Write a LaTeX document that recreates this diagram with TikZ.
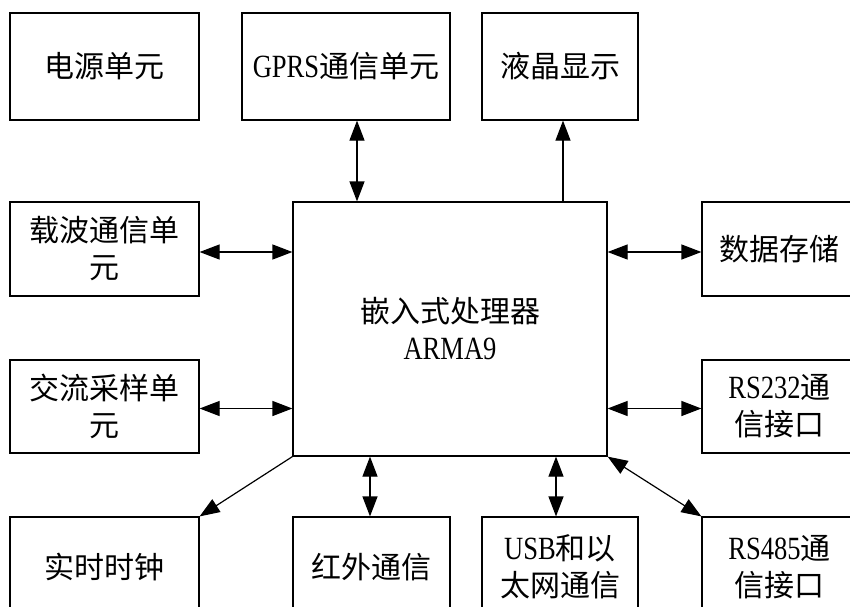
\documentclass[tikz,border=0pt]{standalone}
\usepackage{fontspec}
\setmainfont{Liberation Serif}[FakeStretch=0.82,Scale=1.08]
\newfontfamily\cjk{Noto Sans CJK SC}
\usetikzlibrary{arrows.meta}
\tikzset{
  blk/.style={draw, line width=1.2pt, inner sep=0pt, align=center,
    font=\fontsize{30}{37}\selectfont},
  link/.style={line width=1.2pt, -{Triangle[length=20pt,width=15pt]}},
  dlink/.style={line width=1.2pt, {Triangle[length=20pt,width=15pt]}-{Triangle[length=20pt,width=15pt]}}
}
\begin{document}
\begin{tikzpicture}[x=1pt,y=-1pt]
\clip (0,0) rectangle (850,606);
\fill[white] (0,0) rectangle (850,606);
% top row
\node[blk, minimum width=189pt, minimum height=107pt] (power) at (104.5,66.5) {\cjk 电源单元};
\node[blk, minimum width=208pt, minimum height=107pt] (gprs) at (346,66.5) {GPRS{\cjk 通信单元}};
\node[blk, minimum width=156pt, minimum height=107pt] (lcd) at (560,66.5) {\cjk 液晶显示};
% centre
\node[blk, minimum width=314pt, minimum height=254pt] (cpu) at (450,329) {{\cjk 嵌入式处理器}\\ARMA9};
% left
\node[blk, minimum width=189pt, minimum height=94pt] (carrier) at (104.5,249) {{\cjk 载波通信单}\\{\cjk 元}};
\node[blk, minimum width=189pt, minimum height=93pt] (ac) at (104.5,406.5) {{\cjk 交流采样单}\\{\cjk 元}};
% right
\node[blk, minimum width=155pt, minimum height=94pt] (store) at (779.5,249) {\cjk 数据存储};
\node[blk, minimum width=155pt, minimum height=93pt] (rs232) at (779.5,406.5) {RS232{\cjk 通}\\{\cjk 信接口}};
% bottom
\node[blk, minimum width=189pt, minimum height=100pt] (clock) at (104.5,567) {\cjk 实时时钟};
\node[blk, minimum width=157pt, minimum height=100pt] (ir) at (371.5,567) {\cjk 红外通信};
\node[blk, minimum width=156pt, minimum height=100pt] (usb) at (560,567) {USB{\cjk 和以}\\{\cjk 太网通信}};
\node[blk, minimum width=155pt, minimum height=100pt] (rs485) at (779.5,567) {RS485{\cjk 通}\\{\cjk 信接口}};
% guide coordinates
\coordinate (xg) at (357,0);
\coordinate (xl) at (563,0);
\coordinate (xi) at (370,0);
\coordinate (xu) at (556,0);
\coordinate (y1) at (0,252);
\coordinate (y2) at (0,408.5);
% connectors
\draw[dlink] (gprs.south -| xg) -- (cpu.north -| xg);
\draw[link] (cpu.north -| xl) -- (lcd.south -| xl);
\draw[dlink] (carrier.east |- y1) -- (cpu.west |- y1);
\draw[dlink] (ac.east |- y2) -- (cpu.west |- y2);
\draw[dlink] (cpu.east |- y1) -- (store.west |- y1);
\draw[dlink] (cpu.east |- y2) -- (rs232.west |- y2);
\draw[link] (cpu.south west) -- (clock.north east);
\draw[dlink] (cpu.south -| xi) -- (ir.north -| xi);
\draw[dlink] (cpu.south -| xu) -- (usb.north -| xu);
\draw[dlink] (cpu.south east) -- (rs485.north west);
\end{tikzpicture}
\end{document}
